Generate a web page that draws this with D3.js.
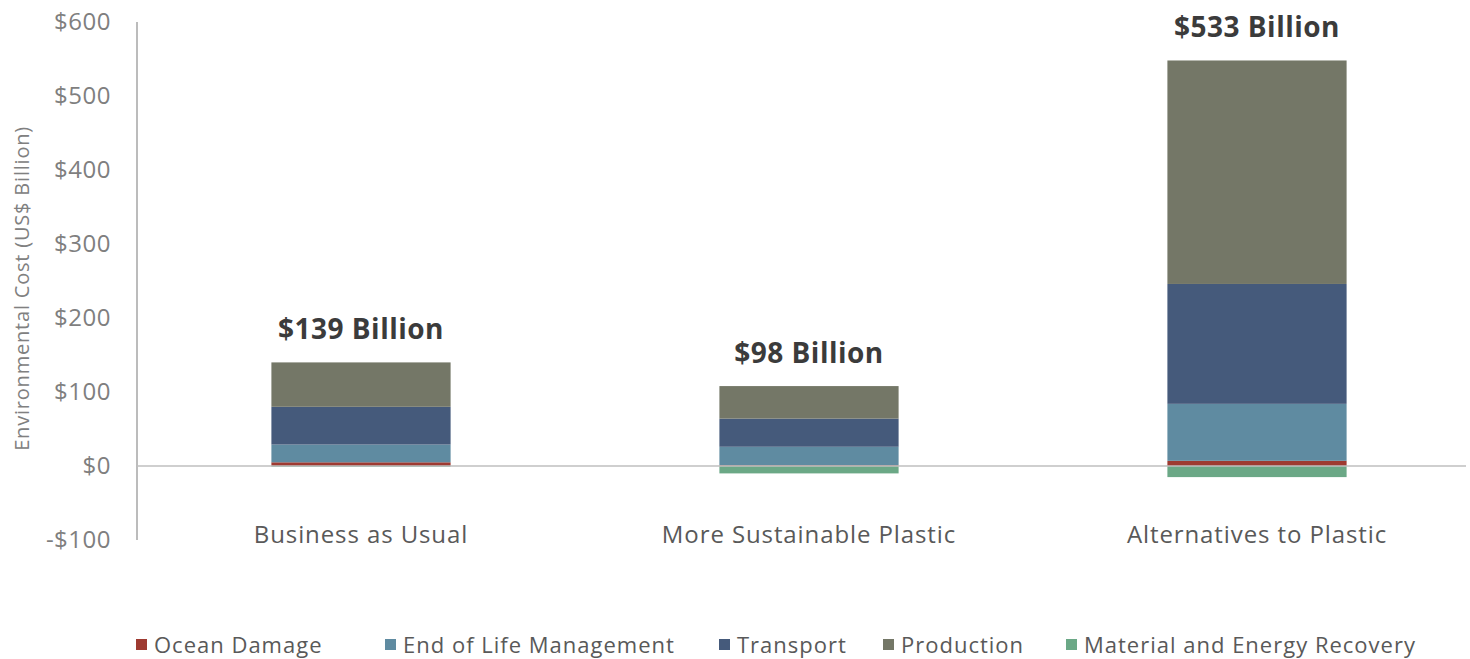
<!DOCTYPE html>
<html lang="en">
<head>
  <meta charset="UTF-8">
  <title>Environmental cost of plastic scenarios</title>
  <script src="https://d3js.org/d3.v7.min.js"></script>
  <style>
    body {
      margin: 0;
      background: #fff;
      font-family: "Open Sans", sans-serif;
    }
    .tick-label { fill: #7f7f7f; font-size: 24px; letter-spacing: 0.5px; }
    .cat-label { fill: #595959; font-size: 24px; letter-spacing: 0.9px; }
    .total-label { fill: #3b3b3b; font-size: 28px; font-weight: bold; letter-spacing: 0.5px; }
    .legend-label { fill: #595959; font-size: 22px; letter-spacing: 1px; }
    .axis-title { fill: #808080; font-size: 20px; letter-spacing: 0.8px; }
  </style>
</head>
<body>
  <svg id="chart" width="1470" height="659"></svg>

  <script>
    // data (US$ billion)
    const scenarios = ["Business as Usual", "More Sustainable Plastic", "Alternatives to Plastic"];
    const totals = ["$139 Billion", "$98 Billion", "$533 Billion"];
    const series = ["Ocean Damage", "End of Life Management", "Transport", "Production", "Material and Energy Recovery"];
    const oceanDamage = [5, 1, 7];
    const endOfLife = [24, 25, 77];
    const transport = [51, 38, 162];
    const production = [60, 44, 302];
    const recovery = [-1, -10, -15];
    const yTicks = [-100, 0, 100, 200, 300, 400, 500, 600];
    const colors = ["#9e3a31", "#5f8ba1", "#455a7b", "#747767", "#6ba886"];

    const values = [oceanDamage, endOfLife, transport, production, recovery];

    const svg = d3.select("#chart");

    const y = d3.scaleLinear()
      .domain([-100, 600])
      .range([540, 22]);

    const x = d3.scaleBand()
      .domain(scenarios)
      .range([137, 1481])
      .paddingInner(0.6)
      .paddingOuter(0.3);

    // y axis line + tick labels
    svg.append("line")
      .attr("x1", 137).attr("x2", 137)
      .attr("y1", y(600)).attr("y2", y(-100))
      .attr("stroke", "#a6a6a6")
      .attr("stroke-width", 1.5);

    svg.selectAll(".tick-label")
      .data(yTicks)
      .join("text")
      .attr("class", "tick-label")
      .attr("x", 111)
      .attr("y", d => y(d))
      .attr("dy", "0.35em")
      .attr("text-anchor", "end")
      .text(d => (d < 0 ? "-$" : "$") + Math.abs(d));

    svg.append("text")
      .attr("class", "axis-title")
      .attr("transform", `translate(29,${y(240)}) rotate(-90)`)
      .attr("text-anchor", "middle")
      .text("Environmental Cost (US$ Billion)");

    // stacked bars: positives go up from 0, negatives go down
    scenarios.forEach((s, i) => {
      let pos = 0, neg = 0;
      const segs = [];
      values.forEach((arr, k) => {
        const v = arr[i];
        if (v >= 0) {
          segs.push({ k, y0: pos, y1: pos + v });
          pos += v;
        } else {
          segs.push({ k, y0: neg + v, y1: neg });
          neg += v;
        }
      });

      svg.append("g")
        .selectAll("rect")
        .data(segs)
        .join("rect")
        .attr("x", x(s))
        .attr("width", x.bandwidth())
        .attr("y", d => y(d.y1))
        .attr("height", d => y(d.y0) - y(d.y1))
        .attr("fill", d => colors[d.k]);

      svg.append("text")
        .attr("class", "total-label")
        .attr("x", x(s) + x.bandwidth() / 2)
        .attr("y", y(pos) - 23)
        .attr("text-anchor", "middle")
        .text(totals[i]);

      svg.append("text")
        .attr("class", "cat-label")
        .attr("x", x(s) + x.bandwidth() / 2)
        .attr("y", 543)
        .attr("text-anchor", "middle")
        .text(s);
    });

    // zero line
    svg.append("line")
      .attr("x1", 137).attr("x2", 1466)
      .attr("y1", y(0)).attr("y2", y(0))
      .attr("stroke", "#bfbfbf")
      .attr("stroke-width", 1.5);

    // legend, items spread like the original
    const legendX = [136, 385, 719, 883, 1066];
    const legend = svg.append("g").attr("transform", "translate(0,645)");
    series.forEach((name, k) => {
      const g = legend.append("g").attr("transform", `translate(${legendX[k]},0)`);
      g.append("rect")
        .attr("x", 0).attr("y", -6)
        .attr("width", 11).attr("height", 11)
        .attr("fill", colors[k]);
      g.append("text")
        .attr("class", "legend-label")
        .attr("x", 18)
        .attr("dy", "0.35em")
        .text(name);
    });
  </script>
</body>
</html>
